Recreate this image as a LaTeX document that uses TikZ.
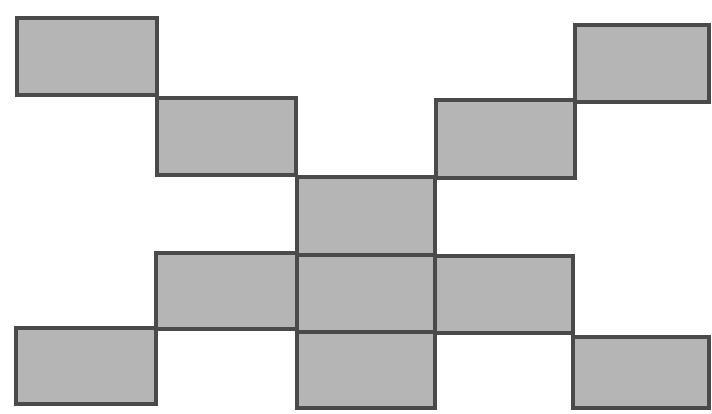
\documentclass[tikz,border=0pt]{standalone}
\definecolor{boxfill}{HTML}{B5B5B5}
\definecolor{boxline}{HTML}{4A4A4A}
\begin{document}
\begin{tikzpicture}[x=1pt,y=-1pt,
  cell/.style={fill=boxfill,draw=boxline,line width=4pt,line join=miter}]
\useasboundingbox (0,0) rectangle (712,413);
% top-left diagonal
\draw[cell] (17,18) rectangle (157,95);
\draw[cell] (157,98) rectangle (296,175);
% top-right diagonal
\draw[cell] (575,25) rectangle (709,102);
\draw[cell] (436,100) rectangle (575,178);
% center column
\draw[cell] (297,177) rectangle (435,255);
\draw[cell] (297,255) rectangle (435,332);
\draw[cell] (297,332) rectangle (435,408);
% row 4
\draw[cell] (156,253) rectangle (297,329);
\draw[cell] (435,256) rectangle (573,333);
% row 5
\draw[cell] (16,328) rectangle (156,404);
\draw[cell] (573,337) rectangle (709,408);
\end{tikzpicture}
\end{document}
